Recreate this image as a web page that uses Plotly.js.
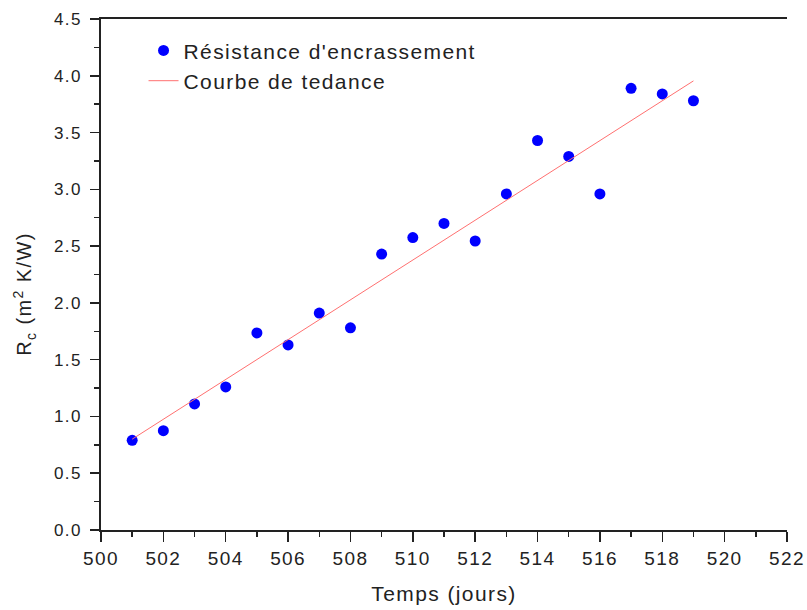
<!DOCTYPE html>
<html>
<head>
<meta charset="utf-8">
<script src="https://cdn.plot.ly/plotly-3.0.1.min.js"></script>
<style>
  html, body { margin: 0; padding: 0; background: #fff; }
  #chart { width: 807px; height: 610px; }
  /* wide tracking on every svg text, including plotly's measuring node */
  svg text { letter-spacing: 1.4px; }
</style>
</head>
<body>
<div id="chart"></div>
<script>
// Temps (jours)
const days = [501, 502, 503, 504, 505, 506, 507, 508, 509, 510,
              511, 512, 513, 514, 515, 516, 517, 518, 519];
// Résistance d'encrassement Rc (m² K/W)
const resistance = [0.79, 0.875, 1.11, 1.26, 1.735, 1.63, 1.91, 1.78, 2.43, 2.575,
                    2.70, 2.545, 2.96, 3.43, 3.29, 2.96, 3.89, 3.84, 3.78];
// Courbe de tendance (ends of the fitted line)
const trendDays = [501, 519];
const trendValues = [0.80, 3.955];

const xTickVals = [500, 502, 504, 506, 508, 510, 512, 514, 516, 518, 520, 522];
const yTickVals = [0.0, 0.5, 1.0, 1.5, 2.0, 2.5, 3.0, 3.5, 4.0, 4.5];
const yTickText = ['0.0', '0.5', '1.0', '1.5', '2.0', '2.5', '3.0', '3.5', '4.0', '4.5'];
const yTitle = 'R<sub>c</sub> (m<sup>2</sup> K/W)';

const ink = '#222222';
const fontFamily = 'Liberation Sans, Arial, sans-serif';

const traces = [
  {
    x: days,
    y: resistance,
    type: 'scatter',
    mode: 'markers',
    name: "Résistance d'encrassement",
    marker: { color: '#0000ff', size: 11, symbol: 'circle' },
    cliponaxis: false
  },
  {
    x: trendDays,
    y: trendValues,
    type: 'scatter',
    mode: 'lines',
    name: 'Courbe de tedance',
    line: { color: '#ff7070', width: 1 }
  }
];

const layout = {
  width: 807,
  height: 610,
  margin: { l: 101, r: 20, t: 19, b: 80 },
  paper_bgcolor: '#ffffff',
  plot_bgcolor: '#ffffff',
  font: { family: fontFamily, color: ink, size: 17 },
  showlegend: true,
  legend: {
    x: 0.062, y: 0.978, xanchor: 'left', yanchor: 'top',
    bgcolor: 'rgba(0,0,0,0)',
    font: { family: fontFamily, size: 21, color: ink },
    tracegroupgap: 0
  },
  xaxis: {
    range: [500, 522],
    tickvals: xTickVals,
    ticks: 'outside', ticklen: 10, tickwidth: 1.5, tickcolor: ink,
    minor: { dtick: 1, tick0: 500, ticks: 'outside', ticklen: 5, tickwidth: 1.5, tickcolor: ink },
    showline: true, linecolor: ink, linewidth: 1.8, mirror: true,
    showgrid: false, zeroline: false,
    tickfont: { size: 19, color: ink },
    title: { text: 'Temps (jours)', font: { size: 21, color: ink }, standoff: 19 }
  },
  yaxis: {
    range: [0, 4.5],
    tickvals: yTickVals,
    ticktext: yTickText,
    ticks: 'outside', ticklen: 9, tickwidth: 1.5, tickcolor: ink,
    minor: { dtick: 0.25, tick0: 0, ticks: 'outside', ticklen: 5, tickwidth: 1.5, tickcolor: ink },
    showline: true, linecolor: ink, linewidth: 1.8, mirror: false,
    showgrid: false, zeroline: false,
    tickfont: { size: 17, color: ink },
    ticklabelstandoff: 5
  },
  yaxis2: {
    range: [0, 4.5],
    overlaying: 'y',
    side: 'right',
    tickvals: yTickVals,
    showticklabels: false,
    ticks: 'inside', ticklen: 8, tickwidth: 1.5, tickcolor: ink,
    minor: { dtick: 0.25, tick0: 0, ticks: 'inside', ticklen: 4, tickwidth: 1.5, tickcolor: ink },
    showline: true, linecolor: ink, linewidth: 1.8,
    showgrid: false, zeroline: false
  },
  // vertical axis title, set a little below the plot's middle
  annotations: [
    {
      text: yTitle,
      xref: 'paper', yref: 'paper',
      x: -0.111, y: 0.462,
      xanchor: 'center', yanchor: 'middle',
      textangle: -90,
      showarrow: false,
      font: { family: fontFamily, size: 20, color: ink }
    }
  ]
};

Plotly.newPlot('chart', traces, layout, { displayModeBar: false, staticPlot: true });
</script>
</body>
</html>
